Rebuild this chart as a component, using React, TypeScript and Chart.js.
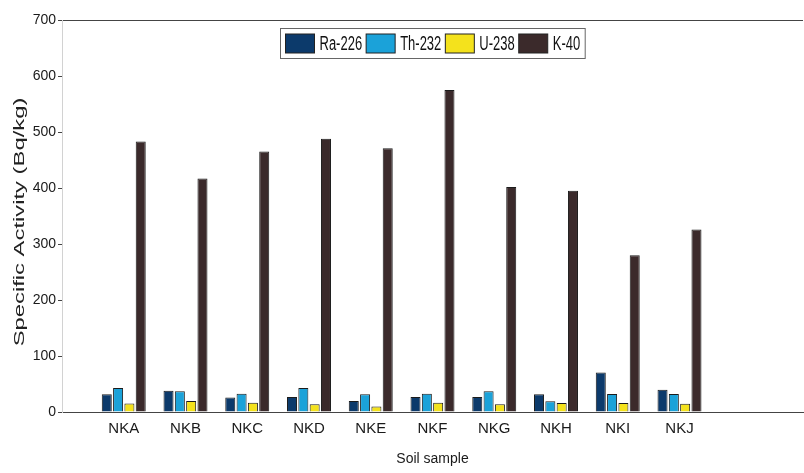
import React, { useEffect, useRef } from "react";
import { Chart, registerables } from "chart.js";

Chart.register(...registerables);

const categories = ["", "NKA", "NKB", "NKC", "NKD", "NKE", "NKF", "NKG", "NKH", "NKI", "NKJ", "", ""];
const ra226 = [null, 31.5, 38, 26, 27, 19.6, 27, 27, 31.5, 70.7, 39.7, null, null];
const th232 = [null, 43, 37, 32.6, 42.7, 31.5, 32.6, 37, 19, 32, 32, null, null];
const u238 = [null, 15.4, 19.6, 16.6, 13.7, 10, 16.6, 13.7, 16, 16, 14.8, null, null];
const k40 = [null, 483, 417, 465, 488, 471, 575, 402, 395, 280, 326, null, null];
const seriesNames = ["Ra-226", "Th-232", "U-238", "K-40"];
const seriesColors = ["#0c3a6b", "#1ba2d9", "#f4e21c", "#3b2a2b"];
const yTicks = [0, 100, 200, 300, 400, 500, 600, 700];

const SANS = '"Liberation Sans", Arial, sans-serif';

const customPlugin = {
  id: "custom",
  afterDraw(chart: any) {
    const ctx = chart.ctx;
    const area = chart.chartArea;
    // Y axis title (stretched along its length)
    ctx.save();
    ctx.translate(20, 222);
    ctx.rotate(-Math.PI / 2);
    ctx.scale(1.7, 1);
    ctx.font = "14px " + SANS;
    ctx.fillStyle = "#222";
    ctx.textAlign = "center";
    ctx.textBaseline = "middle";
    ctx.fillText("Specific Activity (Bq/kg)", 0, 0);
    ctx.restore();

    // Legend with border inside plot
    ctx.save();
    ctx.font = "13px " + SANS;
    const boxW = 29, boxH = 19, gapBT = 5, gapItem = 4, pad = 5;
    const ds = chart.data.datasets;
    const widths = ds.map((d: any) => ctx.measureText(d.label).width);
    let total = pad * 2;
    widths.forEach((w: number, i: number) => {
      total += boxW + gapBT + w + (i < widths.length - 1 ? gapItem : 0);
    });
    const cx = (area.left + area.right) / 2;
    const left = Math.round(cx - total / 2) + 0.5;
    const top = 28.5;
    const h = 30;
    ctx.fillStyle = "#fff";
    ctx.fillRect(left, top, total, h);
    ctx.strokeStyle = "#666";
    ctx.lineWidth = 1;
    ctx.strokeRect(left, top, total, h);
    let x = left + pad;
    const midY = top + h / 2;
    ds.forEach((d: any, i: number) => {
      ctx.fillStyle = d.backgroundColor;
      ctx.fillRect(x, midY - boxH / 2, boxW, boxH);
      ctx.strokeStyle = "#222";
      ctx.strokeRect(x, midY - boxH / 2, boxW, boxH);
      x += boxW + gapBT;
      ctx.save();
      ctx.translate(x, midY + 1);
      ctx.scale(1, 1.5);
      ctx.fillStyle = "#111";
      ctx.textAlign = "left";
      ctx.textBaseline = "middle";
      ctx.fillText(d.label, 0, 0);
      ctx.restore();
      x += widths[i] + gapItem;
    });
    ctx.restore();
  },
};

export default function App() {
  const ref = useRef<HTMLCanvasElement | null>(null);
  useEffect(() => {
    document.body.style.margin = "0";
    const canvas = ref.current!;
    const values = [ra226, th232, u238, k40];
    const chart = new Chart(canvas, {
      type: "bar",
      data: {
        labels: categories,
        datasets: seriesNames.map((name, i) => ({
          label: name,
          data: values[i] as any,
          backgroundColor: seriesColors[i],
          borderColor: "#1b1b1b",
          borderWidth: 1,
          categoryPercentage: 0.733,
          barPercentage: 0.885,
        })),
      },
      options: {
        animation: false,
        responsive: false,
        devicePixelRatio: 1,
        layout: { padding: { top: 20, left: 0, right: 0, bottom: 0 } },
        plugins: { legend: { display: false }, tooltip: { enabled: false } },
        scales: {
          x: {
            type: "category",
            offset: false,
            grid: { display: false, drawTicks: false },
            border: { display: true, color: "#444", width: 1 },
            ticks: {
              autoSkip: false,
              maxRotation: 0,
              padding: 8,
              color: "#1a1a1a",
              font: { family: SANS, size: 15 },
            },
            title: {
              display: true,
              text: "Soil sample",
              color: "#1a1a1a",
              font: { family: SANS, size: 14 },
              padding: { top: 0, bottom: 5 },
            },
            afterFit: (s: any) => {
              s.height = 61;
            },
          },
          y: {
            min: 0,
            max: 700,
            afterBuildTicks: (s: any) => {
              s.ticks = yTicks.map((v) => ({ value: v }));
            },
            grid: {
              drawOnChartArea: true,
              drawTicks: true,
              tickLength: 4,
              tickColor: "#444",
              color: (c: any) => (c.tick && c.tick.value === 700 ? "#444" : "rgba(0,0,0,0)"),
            },
            border: { display: true, color: "#d2d2d2", width: 1 },
            ticks: {
              padding: 2,
              color: "#1a1a1a",
              font: { family: SANS, size: 14 },
            },
            afterFit: (s: any) => {
              s.width = 62;
            },
          },
        },
      },
      plugins: [customPlugin],
    });
    return () => chart.destroy();
  }, []);
  return (
    <div style={{ width: 804, height: 473, overflow: "hidden", background: "#fff" }}>
      <canvas ref={ref} width={811} height={473} style={{ display: "block" }} />
    </div>
  );
}
